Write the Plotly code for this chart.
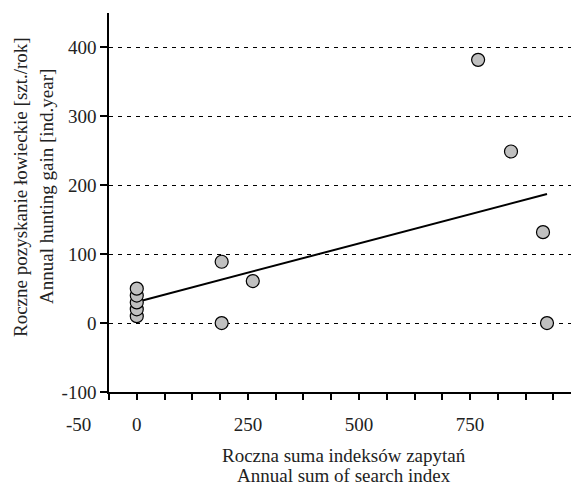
import numpy as np
import plotly.graph_objects as go

# Data
search_index = [0, 0, 0, 0, 0, 191, 191, 261, 768, 842, 914, 923]
hunting_gain = [10, 20, 30, 40, 50, 89, 0, 61, 382, 249, 132, 0]

x_tickvals = list(np.arange(-62.5, 940, 62.5))
x_labels = {0: "0", 250: "250", 500: "500", 750: "750"}
x_ticktext = [x_labels.get(v, "") for v in x_tickvals]
x_first_label = "-50"
y_tickvals = [-100, 0, 100, 200, 300, 400]
y_ticktext = ["-100", "0", "100", "200", "300", "400"]

x_arr = np.array(search_index, dtype=float)
y_arr = np.array(hunting_gain, dtype=float)
slope, intercept = np.polyfit(x_arr, y_arr, 1)
fit_x = np.array([x_arr.min(), x_arr.max()])
fit_y = slope * fit_x + intercept

FONT = "Liberation Serif"
TXT = "#222"

fig = go.Figure()
fig.add_trace(go.Scatter(x=fit_x, y=fit_y, mode="lines",
                         line=dict(color="black", width=2), showlegend=False))
fig.add_trace(go.Scatter(x=search_index, y=hunting_gain, mode="markers",
                         marker=dict(size=13, color="#c0c0c0",
                                     line=dict(color="black", width=1.2)),
                         showlegend=False))

# page body has an 8px margin; plot area spans window x 109..579, y 13..392
fig.update_layout(
    width=571, height=477,
    margin=dict(l=101, r=0, t=5, b=93),
    paper_bgcolor="white", plot_bgcolor="white",
    font=dict(family=FONT, size=19, color=TXT),
    xaxis=dict(range=[-62.5, 995], tickvals=x_tickvals, ticktext=x_ticktext,
               showgrid=False, zeroline=False, showline=True, linecolor="black",
               linewidth=1.5, ticks="outside", ticklen=6, tickwidth=1.5,
               tickcolor="black", tickangle=0, ticklabelstandoff=8),
    yaxis=dict(range=[-100, 450], tickvals=y_tickvals, ticktext=y_ticktext,
               showgrid=True, gridcolor="black", gridwidth=1.3, griddash="4px,5px",
               zeroline=False, showline=True, linecolor="black", linewidth=1.5,
               ticks="outside", ticklen=7, tickwidth=1.5, tickcolor="black"),
    annotations=[
        dict(text=x_first_label, xref="paper", yref="paper",
             x=(78 - 109) / 470, y=(392 - 424) / 379, showarrow=False,
             xanchor="center", yanchor="middle", font=dict(family=FONT, size=19, color=TXT)),
        dict(text="Roczne pozyskanie łowieckie [szt./rok]", xref="paper", yref="paper",
             x=(20 - 109) / 470, y=(392 - 187) / 379, textangle=-90, showarrow=False,
             xanchor="center", yanchor="middle", font=dict(family=FONT, size=19, color=TXT)),
        dict(text="Annual hunting gain [ind.year]", xref="paper", yref="paper",
             x=(46 - 109) / 470, y=(392 - 187) / 379, textangle=-90, showarrow=False,
             xanchor="center", yanchor="middle", font=dict(family=FONT, size=19, color=TXT)),
        dict(text="Roczna suma indeksów zapytań", xref="paper", yref="paper",
             x=(344 - 109) / 470, y=(392 - 455) / 379, showarrow=False,
             xanchor="center", yanchor="middle", font=dict(family=FONT, size=19, color=TXT)),
        dict(text="Annual sum of search index", xref="paper", yref="paper",
             x=(344 - 109) / 470, y=(392 - 475) / 379, showarrow=False,
             xanchor="center", yanchor="middle", font=dict(family=FONT, size=19, color=TXT)),
    ],
)

fig.write_html("out.html")
